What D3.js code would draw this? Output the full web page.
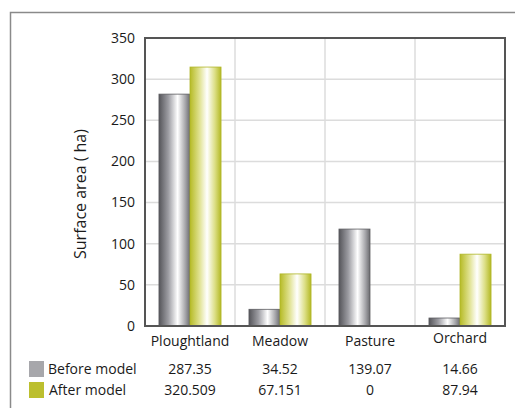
<!DOCTYPE html>
<meta charset="utf-8">
<title>Surface area</title>
<style>
body { margin: 0; background: #fff; }
text { font-family: "Open Sans", sans-serif; fill: #1a1a1a; }
</style>
<svg></svg>
<script src="https://cdn.jsdelivr.net/npm/d3@7"></script>
<script>
var width = 515, height = 408;

var categories = ["Ploughtland", "Meadow", "Pasture", "Orchard"];
var seriesNames = ["Before model", "After model"];
// bar heights as drawn in the picture
var beforeBars = [281.8, 20.3, 117.8, 9.7];
var afterBars = [314.7, 63.3, 0, 87.3];
// values printed in the data table
var beforeLabels = ["287.35", "34.52", "139.07", "14.66"];
var afterLabels = ["320.509", "67.151", "0", "87.94"];
var yTicks = [0, 50, 100, 150, 200, 250, 300, 350];

var svg = d3.select("svg").attr("width", width).attr("height", height);

var margin = {left: 145, top: 38, right: 505, bottom: 326};

var x = d3.scaleBand().domain(categories).range([margin.left, margin.right]);
var x1 = d3.scaleBand().domain(seriesNames).range([0, x.bandwidth()]).paddingOuter(0.45);
var y = d3.scaleLinear().domain([0, 350]).range([margin.bottom, margin.top]);

// gradients
var defs = svg.append("defs");
function grad(id, stops) {
  var g = defs.append("linearGradient").attr("id", id)
    .attr("x1", "0%").attr("x2", "100%").attr("y1", "0%").attr("y2", "0%");
  stops.forEach(s => g.append("stop").attr("offset", s[0]).attr("stop-color", s[1]));
}
grad("g0", [["0%", "#55555a"], ["30%", "#9c9ca2"], ["60%", "#ffffff"], ["85%", "#a6a6aa"], ["100%", "#6a6a6e"]]);
grad("g1", [["0%", "#b6bb26"], ["30%", "#dfe18e"], ["55%", "#ffffff"], ["80%", "#dcdf86"], ["100%", "#b4b924"]]);
var fills = ["url(#g0)", "url(#g1)"];
var strokes = ["#5c5c60", "#b0b628"];
var swatch = ["#a7a7ab", "#bcbf2e"];

// outer frame
svg.append("path")
  .attr("d", "M10.5," + height + "V12.5H" + width)
  .attr("fill", "none").attr("stroke", "#8a8a8a").attr("stroke-width", 1.5);

// grid
svg.append("g").selectAll("line").data(yTicks.slice(1)).enter().append("line")
  .attr("x1", margin.left).attr("x2", margin.right)
  .attr("y1", d => y(d)).attr("y2", d => y(d))
  .attr("stroke", "#dcdcdc").attr("stroke-width", 1.5);
svg.append("g").selectAll("line").data(categories.slice(1)).enter().append("line")
  .attr("x1", d => x(d)).attr("x2", d => x(d))
  .attr("y1", margin.top).attr("y2", margin.bottom)
  .attr("stroke", "#dcdcdc").attr("stroke-width", 1.5);

// bars
var data = categories.map((c, i) => [beforeBars[i], afterBars[i]]);
svg.append("g").selectAll("g").data(data).enter().append("g")
  .attr("transform", (d, i) => "translate(" + x(categories[i]) + ",0)")
  .selectAll("rect").data(d => d.map((v, j) => ({v: v, j: j}))).enter()
  .filter(d => d.v > 0)
  .append("rect")
  .attr("x", d => x1(seriesNames[d.j]))
  .attr("width", x1.bandwidth())
  .attr("y", d => y(d.v))
  .attr("height", d => y(0) - y(d.v))
  .attr("fill", d => fills[d.j])
  .attr("stroke", d => strokes[d.j])
  .attr("stroke-width", 0.8);

// plot border
svg.append("rect")
  .attr("x", margin.left).attr("y", margin.top)
  .attr("width", margin.right - margin.left).attr("height", margin.bottom - margin.top)
  .attr("fill", "none").attr("stroke", "#555").attr("stroke-width", 2);

// y axis labels
svg.append("g").selectAll("text").data(yTicks).enter().append("text")
  .attr("x", 135).attr("y", d => y(d)).attr("dy", "0.35em")
  .attr("text-anchor", "end").attr("font-size", 14)
  .text(d => d);

svg.append("text")
  .attr("transform", "translate(86,194) rotate(-90)")
  .attr("text-anchor", "middle").attr("font-size", 16)
  .text("Surface area ( ha)");

// category labels
svg.append("g").selectAll("text").data(categories).enter().append("text")
  .attr("x", d => x(d) + x.bandwidth() / 2)
  .attr("y", (d, i) => i == 3 ? 338 : 341).attr("dy", "0.35em")
  .attr("text-anchor", "middle").attr("font-size", 14)
  .text(d => d);

// data table
var rows = [beforeLabels, afterLabels];
rows.forEach(function(r, j) {
  var ry = 369 + j * 21;
  svg.append("rect").attr("x", 29).attr("y", ry - 8).attr("width", 15).attr("height", 16)
    .attr("fill", swatch[j]);
  svg.append("text").attr("x", 48 + j).attr("y", ry).attr("dy", "0.35em")
    .attr("font-size", 14).text(seriesNames[j]);
  svg.append("g").selectAll("text").data(r).enter().append("text")
    .attr("x", (d, i) => x(categories[i]) + x.bandwidth() / 2)
    .attr("y", ry).attr("dy", "0.35em")
    .attr("text-anchor", "middle").attr("font-size", 14)
    .text(d => d);
});
</script>
